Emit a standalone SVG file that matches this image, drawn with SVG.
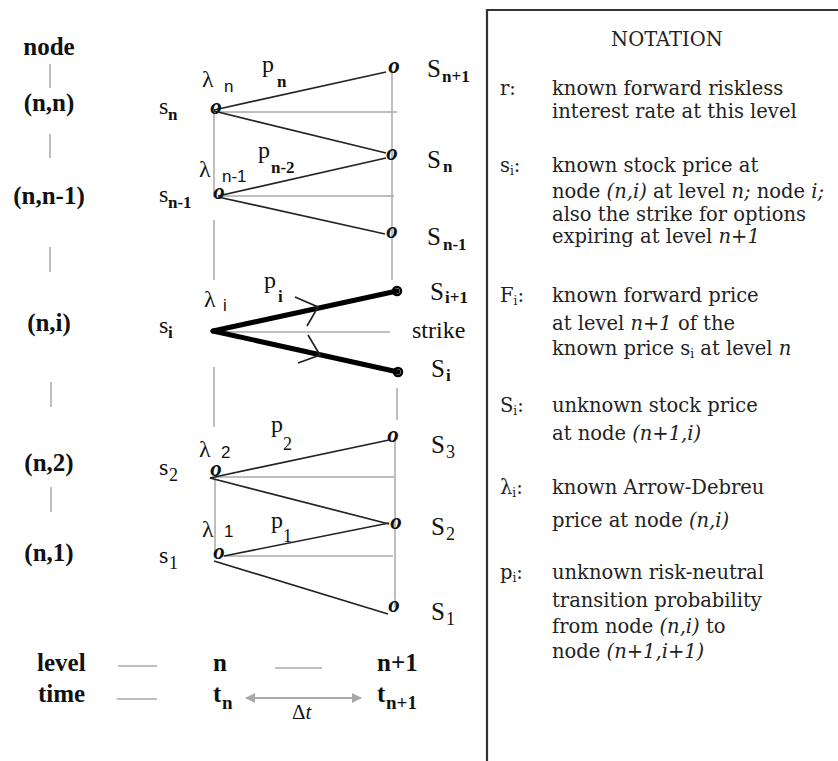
<svg xmlns="http://www.w3.org/2000/svg" width="838" height="761" viewBox="0 0 838 761">
<defs>
<style>
.lb{font-family:"Liberation Serif","Times New Roman",serif;font-weight:bold;font-size:25px;fill:#111}
.sv{font-family:"Liberation Serif","Times New Roman",serif;font-size:24px;fill:#111}
.SS{font-family:"Liberation Serif","Times New Roman",serif;font-size:25px;fill:#111}
.sb{font-family:"Liberation Serif","Times New Roman",serif;font-size:17px;font-weight:bold;fill:#111}
.sr{font-family:"Liberation Serif","Times New Roman",serif;font-size:18px;fill:#111}
.ss{font-family:"Liberation Sans",Arial,sans-serif;font-size:17px;fill:#111}
.mk{font-family:"Liberation Serif","Times New Roman",serif;font-size:23px;font-weight:bold;font-style:italic;fill:#111;text-anchor:middle}
.gr{stroke:#a8a8a8;stroke-width:1.5;fill:none}
.dk{stroke:#222;stroke-width:1.7;fill:none}
.th{stroke:#000;stroke-width:5;fill:none;stroke-linecap:round}
.nt{font-family:"DejaVu Serif",serif;font-size:19.5px;fill:#222}
.it{font-style:italic}
</style>
<marker id="ah" markerWidth="10" markerHeight="10" refX="9" refY="5" orient="auto-start-reverse" markerUnits="userSpaceOnUse">
<path d="M0,0 L10,5 L0,10 z" fill="#a8a8a8"/>
</marker>
</defs>
<rect width="838" height="761" fill="#fff"/>

<g id="left-column">
<text class="lb" x="49" y="55" text-anchor="middle">node</text>
<text class="lb" x="49" y="111" text-anchor="middle">(n,n)</text>
<text class="lb" x="49" y="204" text-anchor="middle">(n,n-1)</text>
<text class="lb" x="49" y="331" text-anchor="middle">(n,i)</text>
<text class="lb" x="49" y="471" text-anchor="middle">(n,2)</text>
<text class="lb" x="49" y="561" text-anchor="middle">(n,1)</text>
<line class="gr" x1="50" y1="64" x2="50" y2="88"/>
<line class="gr" x1="50" y1="134" x2="50" y2="158"/>
<line class="gr" x1="50" y1="247" x2="50" y2="272"/>
<line class="gr" x1="51" y1="382" x2="51" y2="407"/>
<line class="gr" x1="51" y1="487" x2="51" y2="512"/>
</g>

<g id="connectors">
<line class="gr" x1="214" y1="110" x2="214" y2="197"/>
<line class="gr" x1="214" y1="220" x2="214" y2="280"/>
<line class="gr" x1="214" y1="367" x2="214" y2="427"/>
<line class="gr" x1="215" y1="477" x2="215" y2="557"/>
<line class="gr" x1="392" y1="70" x2="392" y2="280"/>
<line class="gr" x1="397" y1="388" x2="397" y2="420"/>
<line class="gr" x1="395" y1="437" x2="395" y2="607"/>
<line class="gr" x1="214" y1="112" x2="397" y2="112"/>
<line class="gr" x1="219" y1="196" x2="394" y2="196"/>
<line class="gr" x1="213" y1="332" x2="390" y2="332"/>
<line class="gr" x1="215" y1="477" x2="394" y2="477"/>
<line class="gr" x1="220" y1="556" x2="393" y2="556"/>
<line class="dk" x1="214" y1="110" x2="386" y2="72"/>
<line class="dk" x1="214" y1="111" x2="386" y2="153"/>
<line class="dk" x1="218" y1="196" x2="386" y2="158"/>
<line class="dk" x1="218" y1="197" x2="385" y2="234"/>
<line class="th" x1="213" y1="331" x2="397" y2="291"/>
<line class="th" x1="213" y1="331" x2="398" y2="372"/>
<polyline class="dk" stroke-width="1.2" points="295,297 318,307 307,326"/>
<polyline class="dk" stroke-width="1.2" points="308,335 320,355 298,363"/>
<line class="dk" x1="210" y1="478" x2="389" y2="440"/>
<line class="dk" x1="210" y1="478" x2="389" y2="524"/>
<line class="dk" x1="224" y1="556" x2="389" y2="523"/>
<line class="dk" x1="214" y1="561" x2="388" y2="614"/>
</g>

<g id="node-n">
<text class="mk" x="216" y="114">o</text>
<text class="sv" x="159" y="114">s</text><text class="sb" x="168" y="120">n</text>
<text class="sv" x="202" y="87">λ</text><text class="ss" x="224" y="92">n</text>
<text class="sv" x="262" y="72">p</text><text class="sb" x="277" y="87">n</text>
</g>
<g id="node-n-1">
<text class="mk" x="219" y="199">o</text>
<text class="sv" x="159" y="202">s</text><text class="sb" x="168" y="208">n-1</text>
<text class="sv" x="199" y="177">λ</text><text class="ss" x="222" y="182">n-1</text>
<text class="sv" x="258" y="158">p</text><text class="sb" x="271" y="173">n-2</text>
</g>
<g id="node-i">
<text class="sv" x="159" y="333">s</text><text class="sb" x="168" y="338">i</text>
<text class="sv" x="204" y="307">λ</text><text class="ss" x="223" y="311">i</text>
<text class="sv" x="264" y="288">p</text><text class="sb" x="278" y="302">i</text>
</g>
<g id="node-2">
<text class="mk" x="216" y="476">o</text>
<text class="sv" x="159" y="475">s</text><text class="sr" x="169" y="481">2</text>
<text class="sv" x="199" y="457">λ</text><text class="ss" x="221" y="458">2</text>
<text class="sv" x="271" y="432">p</text><text class="sr" x="283" y="450">2</text>
</g>
<g id="node-1">
<text class="mk" x="219" y="559">o</text>
<text class="sv" x="159" y="563">s</text><text class="sr" x="169" y="569">1</text>
<text class="sv" x="202" y="537">λ</text><text class="ss" x="224" y="537">1</text>
<text class="sv" x="271" y="528">p</text><text class="sr" x="283" y="542">1</text>
</g>

<g id="node-S-n1">
<text class="mk" x="394" y="73">o</text>
<text class="SS" x="427" y="77">S</text><text class="sb" x="442" y="82">n+1</text>
</g>
<g id="node-S-n">
<text class="mk" x="392" y="160">o</text>
<text class="SS" x="427" y="168">S</text><text class="sb" x="443" y="172">n</text>
</g>
<g id="node-S-nm1">
<text class="mk" x="392" y="238">o</text>
<text class="SS" x="427" y="245">S</text><text class="sb" x="443" y="250">n-1</text>
</g>
<g id="node-S-i1">
<circle cx="397" cy="291" r="4" fill="none" stroke="#000" stroke-width="2.5"/>
<text class="SS" x="430" y="300">S</text><text class="sb" x="445" y="303">i+1</text>
</g>
<g id="node-strike">
<text class="sv" x="412" y="338">strike</text>
</g>
<g id="node-S-i">
<circle cx="398" cy="372" r="4" fill="none" stroke="#000" stroke-width="2.5"/>
<text class="SS" x="431" y="377">S</text><text class="sb" x="446" y="381">i</text>
</g>
<g id="node-S-3">
<text class="mk" x="393" y="442">o</text>
<text class="SS" x="431" y="453">S</text><text class="sr" x="446" y="458">3</text>
</g>
<g id="node-S-2">
<text class="mk" x="396" y="529">o</text>
<text class="SS" x="431" y="535">S</text><text class="sr" x="446" y="540">2</text>
</g>
<g id="node-S-1">
<text class="mk" x="394" y="612">o</text>
<text class="SS" x="431" y="620">S</text><text class="sr" x="446" y="625">1</text>
</g>

<g id="axis">
<text class="lb" x="37" y="671">level</text>
<line class="gr" x1="118" y1="666" x2="157" y2="666"/>
<text class="lb" x="213" y="671">n</text>
<line class="gr" x1="275" y1="668" x2="322" y2="668"/>
<text class="lb" x="377" y="671">n+1</text>
<text class="lb" x="38" y="702">time</text>
<line class="gr" x1="117" y1="699" x2="157" y2="699"/>
<text class="lb" x="213" y="702">t</text><text class="sb" x="222" y="709" style="font-size:19px">n</text>
<line stroke="#a8a8a8" stroke-width="2" x1="246" y1="698" x2="361" y2="698" marker-start="url(#ah)" marker-end="url(#ah)"/>
<text class="sv" x="292" y="719" style="font-size:21px">Δ<tspan class="it">t</tspan></text>
<text class="lb" x="377" y="702">t</text><text class="sb" x="386" y="709" style="font-size:19px">n+1</text>
</g>

<g id="notation">
<path d="M838,10 H487 V761" fill="none" stroke="#333" stroke-width="2.2"/>
<text class="nt" x="667" y="46" text-anchor="middle">NOTATION</text>
<text class="nt" x="500" y="95">r:</text>
<text class="nt" x="552" y="95">known forward riskless</text>
<text class="nt" x="552" y="118">interest rate at this level</text>
<text class="nt" x="500" y="172">s<tspan font-size="12" dy="3">i</tspan><tspan dy="-3">:</tspan></text>
<text class="nt" x="552" y="172">known stock price at</text>
<text class="nt" x="552" y="198">node <tspan class="it">(n,i)</tspan> at level <tspan class="it">n;</tspan> node <tspan class="it">i;</tspan></text>
<text class="nt" x="552" y="221">also the strike for options</text>
<text class="nt" x="552" y="243">expiring at level <tspan class="it">n+1</tspan></text>
<text class="nt" x="500" y="302">F<tspan font-size="12" dy="3">i</tspan><tspan dy="-3">:</tspan></text>
<text class="nt" x="552" y="302">known forward price</text>
<text class="nt" x="552" y="330">at level <tspan class="it">n+1</tspan> of the</text>
<text class="nt" x="552" y="355">known price s<tspan font-size="12" dy="3">i</tspan><tspan dy="-3"> at level </tspan><tspan class="it">n</tspan></text>
<text class="nt" x="500" y="412">S<tspan font-size="12" dy="3">i</tspan><tspan dy="-3">:</tspan></text>
<text class="nt" x="552" y="412">unknown stock price</text>
<text class="nt" x="552" y="440">at node <tspan class="it">(n+1,i)</tspan></text>
<text class="nt" x="500" y="494">λ<tspan font-size="12" dy="3">i</tspan><tspan dy="-3">:</tspan></text>
<text class="nt" x="552" y="494">known Arrow-Debreu</text>
<text class="nt" x="552" y="527">price at node <tspan class="it">(n,i)</tspan></text>
<text class="nt" x="500" y="579">p<tspan font-size="12" dy="3">i</tspan><tspan dy="-3">:</tspan></text>
<text class="nt" x="552" y="579">unknown risk-neutral</text>
<text class="nt" x="552" y="607">transition probability</text>
<text class="nt" x="552" y="633">from node <tspan class="it">(n,i)</tspan> to</text>
<text class="nt" x="552" y="658">node <tspan class="it">(n+1,i+1)</tspan></text>
</g>
</svg>
